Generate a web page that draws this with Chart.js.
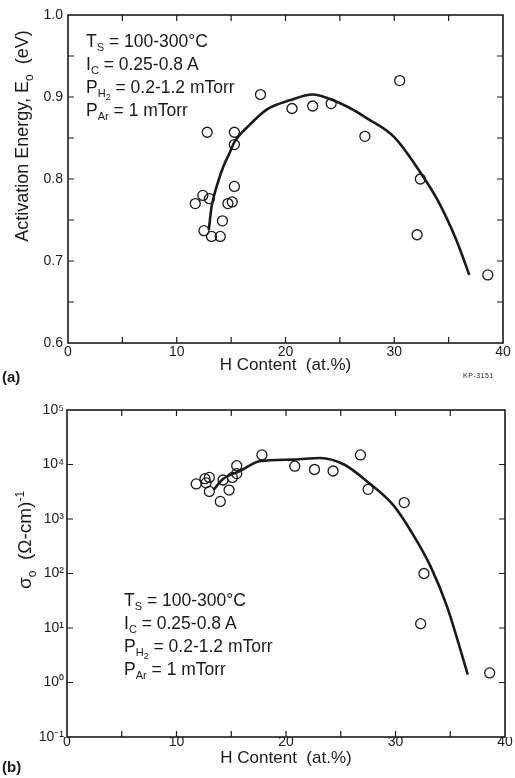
<!DOCTYPE html>
<html lang="en">
<head>
<meta charset="UTF-8">
<title>Activation energy and conductivity prefactor vs H content</title>
<script src="https://cdn.jsdelivr.net/npm/chart.js"></script>
<style>
  body { margin: 0; background: #fff; font-family: "Liberation Sans", Arial, sans-serif; color: #1a1a1a; }
  .page { position: relative; width: 515px; height: 778px; overflow: hidden; }
  canvas { position: absolute; left: 0; }
  #chartA { top: 0; }
  #chartB { top: 390px; }
  .cond { position: absolute; font-size: 17.5px; line-height: 23px; white-space: nowrap; }
  .cond sub { font-size: 11px; vertical-align: -4px; line-height: 0; }
  .cond sub sub { font-size: 9px; vertical-align: -3px; }
  .ytitle { position: absolute; font-size: 18px; white-space: nowrap; transform: translate(-50%, -50%) rotate(-90deg); }
  .ytitle sub, .ytitle sup { font-size: 12px; }
  .panel { position: absolute; font-weight: bold; font-size: 15px; }
  .code { position: absolute; font-size: 7px; letter-spacing: 0.5px; }
</style>
</head>
<body>
<div class="page">
  <canvas id="chartA" width="515" height="390"></canvas>
  <canvas id="chartB" width="515" height="388"></canvas>

  <div class="ytitle" style="left:24px; top:136px;">Activation Energy, E<sub>o</sub>&nbsp; (eV)</div>
  <div class="ytitle" style="left:26px; top:540px; font-size:19px;">σ<sub>o</sub>&nbsp; (Ω-cm)<sup>-1</sup></div>

  <div class="cond" style="left:86px; top:30px;">
    T<sub>S</sub> = 100-300°C<br>
    I<sub>C</sub> = 0.25-0.8 A<br>
    P<sub>H<sub>2</sub></sub> = 0.2-1.2 mTorr<br>
    P<sub>Ar</sub> = 1 mTorr
  </div>
  <div class="cond" style="left:124px; top:589px;">
    T<sub>S</sub> = 100-300°C<br>
    I<sub>C</sub> = 0.25-0.8 A<br>
    P<sub>H<sub>2</sub></sub> = 0.2-1.2 mTorr<br>
    P<sub>Ar</sub> = 1 mTorr
  </div>

  <div class="panel" style="left:2px; top:368px;">(a)</div>
  <div class="panel" style="left:2px; top:758px;">(b)</div>
  <div class="code" style="left:463px; top:372px;">KP-3151</div>
</div>

<script>
  // (a) activation energy, measured points
  const aH = [11.7, 12.4, 13.0, 12.8, 12.5, 13.2, 14.0, 14.2, 14.7, 15.1, 15.3, 15.3, 15.3, 17.7, 20.6, 22.5, 24.2, 27.3, 30.5, 32.4, 32.1, 38.6];
  const aE = [0.770, 0.780, 0.776, 0.857, 0.737, 0.730, 0.730, 0.749, 0.770, 0.772, 0.791, 0.857, 0.842, 0.903, 0.886, 0.889, 0.892, 0.852, 0.920, 0.800, 0.732, 0.683];
  // (a) drawn curve
  const aFitH = [12.95, 13.2, 13.67, 14.28, 14.9, 15.3, 16.7, 18.3, 20.4, 22.5, 24.2, 26.0, 27.5, 30.0, 32.4, 34.0, 35.7, 36.9];
  const aFitE = [0.738, 0.766, 0.791, 0.815, 0.833, 0.845, 0.866, 0.885, 0.896, 0.903, 0.897, 0.886, 0.874, 0.851, 0.808, 0.774, 0.726, 0.683];

  // (b) sigma_0, measured points
  const bH = [11.8, 12.6, 13.0, 12.7, 13.0, 14.0, 14.25, 14.8, 15.1, 15.5, 15.5, 17.8, 20.8, 22.6, 24.3, 26.8, 27.5, 30.8, 32.6, 32.3, 38.6];
  const bSigma = [4400, 5500, 5800, 4600, 3200, 2100, 5200, 3400, 5800, 9500, 6800, 15000, 9300, 8100, 7600, 15000, 3500, 2000, 100, 12, 1.5];
  // (b) drawn curve
  const bFitH = [13.4, 14.25, 15.8, 17.6, 20.7, 23.1, 25.3, 27.4, 29.8, 31.7, 33.2, 34.7, 36.6];
  const bFitSigma = [3470, 5400, 7600, 11500, 12300, 13200, 10000, 4900, 1800, 480, 135, 25, 1.4];

  // tick values
  const xLabels = [0, 10, 20, 30, 40];
  const xMarks = [5, 10, 15, 20, 25, 30, 35];
  const aYMarks = [0.65, 0.7, 0.75, 0.8, 0.85, 0.9, 0.95];
  const bDecades = [0.1, 1, 10, 100, 1000, 10000, 100000];
  const bYMarks = [1, 10, 100, 1000, 10000];

  const ink = '#1a1a1a';
  const tickFont = { family: '"Liberation Sans", Arial, sans-serif', size: 14 };

  // box round the plot plus inward tick marks on all four sides
  const frame = {
    id: 'frame',
    afterDatasetsDraw(chart, args, opts) {
      const { ctx, chartArea: a, scales: { x, y } } = chart;
      ctx.save();
      ctx.strokeStyle = ink;
      ctx.lineWidth = 1.6;
      ctx.strokeRect(a.left, a.top, a.right - a.left, a.bottom - a.top);
      ctx.lineWidth = 1.2;
      ctx.beginPath();
      opts.xMarks.forEach(v => {
        const px = x.getPixelForValue(v);
        ctx.moveTo(px, a.bottom); ctx.lineTo(px, a.bottom - 6);
        ctx.moveTo(px, a.top); ctx.lineTo(px, a.top + 6);
      });
      opts.yMarks.forEach(v => {
        const py = y.getPixelForValue(v);
        ctx.moveTo(a.left, py); ctx.lineTo(a.left + 6, py);
        ctx.moveTo(a.right, py); ctx.lineTo(a.right - 6, py);
      });
      ctx.stroke();
      ctx.restore();
    }
  };

  const sup = { '-': '⁻', '0': '⁰', '1': '¹', '2': '²', '3': '³', '4': '⁴', '5': '⁵' };
  function powLabel(v) {
    const e = String(Math.round(Math.log10(v)));
    return '10' + e.split('').map(c => sup[c]).join('');
  }

  function xScale(tickPad, bottomPad, height) {
    return {
      type: 'linear', min: 0, max: 40,
      afterBuildTicks: s => { s.ticks = xLabels.map(v => ({ value: v })); },
      ticks: { font: tickFont, color: ink, padding: tickPad, maxRotation: 0 },
      grid: { display: false, drawTicks: false },
      border: { display: false },
      title: { display: true, text: 'H Content  (at.%)', color: ink,
               font: { family: '"Liberation Sans", Arial, sans-serif', size: 17 },
               padding: { top: 0, bottom: bottomPad } },
      afterFit: s => { s.height = height; }
    };
  }

  function fitSet(xs, ys) {
    return {
      type: 'line',
      data: xs.map((h, i) => ({ x: h, y: ys[i] })),
      borderColor: ink, borderWidth: 2.6, pointRadius: 0,
      cubicInterpolationMode: 'monotone', fill: false
    };
  }

  function pointSet(xs, ys) {
    return {
      type: 'scatter',
      data: xs.map((h, i) => ({ x: h, y: ys[i] })),
      pointRadius: 5, pointBorderWidth: 1.3,
      borderColor: ink, backgroundColor: 'rgba(0,0,0,0)'
    };
  }

  new Chart(document.getElementById('chartA'), {
    data: { datasets: [fitSet(aFitH, aFitE), pointSet(aH, aE)] },
    options: {
      responsive: false, animation: false,
      layout: { padding: { left: 0, right: 12, top: 15, bottom: 0 } },
      plugins: { legend: { display: false }, tooltip: { enabled: false },
                 frame: { xMarks: xMarks, yMarks: aYMarks } },
      scales: {
        x: xScale(1, 14, 47),
        y: {
          type: 'linear', min: 0.6, max: 1.0,
          ticks: { stepSize: 0.1, font: tickFont, color: ink, padding: 5, callback: v => v.toFixed(1) },
          grid: { display: false, drawTicks: false },
          border: { display: false },
          afterFit: s => { s.width = 68; }
        }
      }
    },
    plugins: [frame]
  });

  new Chart(document.getElementById('chartB'), {
    data: { datasets: [fitSet(bFitH, bFitSigma), pointSet(bH, bSigma)] },
    options: {
      responsive: false, animation: false,
      layout: { padding: { left: 0, right: 10, top: 20, bottom: 0 } },
      plugins: { legend: { display: false }, tooltip: { enabled: false },
                 frame: { xMarks: xMarks, yMarks: bYMarks } },
      scales: {
        x: xScale(-3, 9, 41),
        y: {
          type: 'logarithmic', min: 0.1, max: 100000,
          afterBuildTicks: s => { s.ticks = bDecades.map(v => ({ value: v })); },
          ticks: { font: tickFont, color: ink, padding: 3, callback: v => powLabel(v) },
          grid: { display: false, drawTicks: false },
          border: { display: false },
          afterFit: s => { s.width = 67; }
        }
      }
    },
    plugins: [frame]
  });
</script>
</body>
</html>
